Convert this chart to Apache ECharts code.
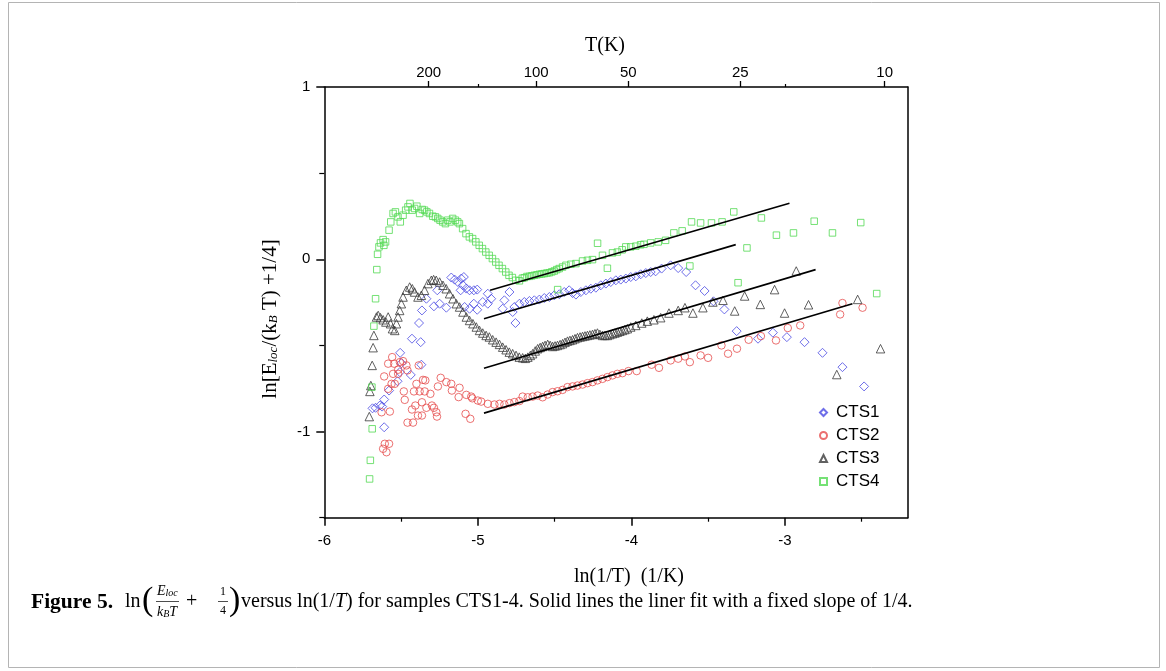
<!DOCTYPE html>
<html>
<head>
<meta charset="utf-8">
<script src="https://cdn.jsdelivr.net/npm/echarts@6/dist/echarts.min.js"></script>
<style>
html,body{margin:0;padding:0;background:#fff;}
#chart{width:1166px;height:671px;}
</style>
</head>
<body>
<div id="chart"></div>
<script>
// ---- Data: [ln(1/T), ln(Eloc/kBT + 1/4)] ----
const seriesNames = ['CTS1', 'CTS2', 'CTS3', 'CTS4'];

const cts1 = [
  [-5.686,-0.865],[-5.666,-0.862],[-5.638,-0.849],[-5.623,-0.855],[-5.610,-0.814],[-5.610,-0.975],
  [-5.578,-0.762],[-5.523,-0.708],[-5.508,-0.655],[-5.497,-0.603],[-5.506,-0.543],[-5.437,-0.671],
  [-5.368,-0.612],[-5.429,-0.461],[-5.372,-0.481],[-5.383,-0.370],[-5.364,-0.297],[-5.335,-0.229],
  [-5.286,-0.273],[-5.249,-0.258],[-5.205,-0.281],[-5.264,-0.180],[-5.173,-0.106],[-5.151,-0.118],
  [-5.130,-0.132],[-5.108,-0.112],[-5.091,-0.103],[-5.097,-0.151],[-5.075,-0.170],[-5.054,-0.180],
  [-5.026,-0.180],[-5.004,-0.176],[-5.112,-0.180],[-5.086,-0.277],[-5.054,-0.287],[-5.026,-0.258],
  [-5.004,-0.293],[-4.968,-0.248],[-4.935,-0.200],[-4.913,-0.229],[-4.935,-0.258],[-4.827,-0.238],
  [-4.838,-0.287],[-4.794,-0.190],[-4.773,-0.306],[-4.755,-0.370],[-4.762,-0.277],[-4.729,-0.258],
  [-4.697,-0.248],[-4.664,-0.242],[-4.632,-0.238],[-4.599,-0.234],[-4.567,-0.225],[-4.534,-0.219],
  [-4.502,-0.209],[-4.469,-0.203],[-4.437,-0.190],[-4.405,-0.180],[-4.383,-0.196],[-4.361,-0.205],
  [-4.329,-0.190],[-4.296,-0.180],[-4.264,-0.171],[-4.231,-0.165],[-4.199,-0.151],[-4.166,-0.141],
  [-4.134,-0.132],[-4.101,-0.122],[-4.069,-0.118],[-4.036,-0.112],[-4.004,-0.103],[-3.971,-0.099],
  [-3.939,-0.087],[-3.906,-0.080],[-3.874,-0.074],[-3.842,-0.070],[-3.803,-0.054],[-3.744,-0.035],
  [-3.695,-0.051],[-3.643,-0.074],[-3.582,-0.151],[-3.523,-0.184],[-3.465,-0.244],[-3.394,-0.291],
  [-3.314,-0.417],[-3.175,-0.461],[-3.078,-0.426],[-2.987,-0.452],[-2.872,-0.481],[-2.755,-0.543],
  [-2.625,-0.626],[-2.484,-0.738]
];

const cts2 = [
  [-5.558,-0.568],[-5.584,-0.606],[-5.545,-0.606],[-5.508,-0.597],[-5.487,-0.591],[-5.465,-0.616],
  [-5.519,-0.641],[-5.610,-0.680],[-5.552,-0.665],[-5.519,-0.665],[-5.458,-0.645],[-5.385,-0.616],
  [-5.357,-0.700],[-5.342,-0.703],[-5.400,-0.723],[-5.541,-0.723],[-5.584,-0.752],[-5.562,-0.723],
  [-5.482,-0.767],[-5.476,-0.816],[-5.416,-0.767],[-5.379,-0.767],[-5.346,-0.767],[-5.309,-0.781],
  [-5.260,-0.738],[-5.242,-0.688],[-5.205,-0.713],[-5.173,-0.723],[-5.169,-0.762],[-5.119,-0.746],
  [-5.125,-0.800],[-5.075,-0.787],[-5.036,-0.807],[-5.000,-0.820],[-5.573,-0.884],[-5.627,-0.888],
  [-5.429,-0.872],[-5.407,-0.849],[-5.364,-0.830],[-5.335,-0.862],[-5.299,-0.849],[-5.286,-0.862],
  [-5.270,-0.888],[-5.266,-0.913],[-5.390,-0.907],[-5.364,-0.907],[-5.458,-0.948],[-5.422,-0.948],
  [-5.080,-0.897],[-5.049,-0.926],[-5.606,-1.071],[-5.578,-1.071],[-5.617,-1.100],[-5.595,-1.120],
  [-5.043,-0.797],[-4.978,-0.826],[-4.935,-0.839],[-4.892,-0.843],[-4.859,-0.839],[-4.827,-0.843],
  [-4.794,-0.835],[-4.762,-0.829],[-4.729,-0.823],[-4.708,-0.797],[-4.675,-0.801],[-4.643,-0.797],
  [-4.610,-0.791],[-4.578,-0.801],[-4.545,-0.785],[-4.513,-0.771],[-4.481,-0.766],[-4.448,-0.758],
  [-4.416,-0.742],[-4.383,-0.738],[-4.351,-0.733],[-4.318,-0.727],[-4.286,-0.719],[-4.253,-0.713],
  [-4.221,-0.703],[-4.188,-0.694],[-4.156,-0.684],[-4.123,-0.674],[-4.091,-0.665],[-4.058,-0.661],
  [-4.019,-0.649],[-3.965,-0.649],[-3.868,-0.612],[-3.820,-0.630],[-3.744,-0.587],[-3.695,-0.577],
  [-3.651,-0.564],[-3.619,-0.597],[-3.549,-0.558],[-3.500,-0.572],[-3.413,-0.500],[-3.370,-0.548],
  [-3.312,-0.519],[-3.236,-0.467],[-3.156,-0.446],[-3.058,-0.471],[-2.981,-0.399],[-2.900,-0.384],
  [-2.640,-0.320],[-2.625,-0.254],[-2.494,-0.281]
];

const cts3 = [
  [-5.707,-0.913],[-5.703,-0.767],[-5.697,-0.733],[-5.688,-0.616],[-5.682,-0.513],[-5.677,-0.442],
  [-5.660,-0.335],[-5.649,-0.326],[-5.634,-0.339],[-5.617,-0.351],[-5.599,-0.364],[-5.584,-0.335],
  [-5.569,-0.374],[-5.556,-0.403],[-5.541,-0.413],[-5.530,-0.374],[-5.520,-0.335],[-5.509,-0.297],
  [-5.498,-0.258],[-5.487,-0.219],[-5.466,-0.180],[-5.444,-0.161],[-5.427,-0.171],[-5.412,-0.190],
  [-5.390,-0.219],[-5.368,-0.209],[-5.347,-0.180],[-5.325,-0.141],[-5.303,-0.122],[-5.288,-0.118],
  [-5.271,-0.122],[-5.249,-0.132],[-5.227,-0.151],[-5.206,-0.171],[-5.184,-0.200],[-5.162,-0.229],
  [-5.140,-0.258],[-5.119,-0.277],[-5.097,-0.306],[-5.075,-0.335],[-5.054,-0.355],[-5.032,-0.374],
  [-5.010,-0.393],[-4.989,-0.413],[-4.968,-0.428],[-4.946,-0.442],[-4.925,-0.451],[-4.903,-0.467],
  [-4.881,-0.481],[-4.859,-0.494],[-4.838,-0.510],[-4.816,-0.525],[-4.795,-0.539],[-4.773,-0.548],
  [-4.751,-0.558],[-4.730,-0.568],[-4.708,-0.572],[-4.690,-0.575],[-4.674,-0.568],[-4.658,-0.558],
  [-4.643,-0.548],[-4.626,-0.532],[-4.610,-0.519],[-4.594,-0.512],[-4.578,-0.506],[-4.562,-0.500],
  [-4.545,-0.494],[-4.529,-0.500],[-4.513,-0.506],[-4.497,-0.503],[-4.481,-0.500],[-4.464,-0.495],
  [-4.448,-0.490],[-4.432,-0.482],[-4.416,-0.475],[-4.400,-0.471],[-4.383,-0.467],[-4.367,-0.461],
  [-4.351,-0.455],[-4.334,-0.451],[-4.318,-0.448],[-4.302,-0.445],[-4.286,-0.442],[-4.270,-0.439],
  [-4.253,-0.436],[-4.237,-0.432],[-4.221,-0.428],[-4.205,-0.436],[-4.188,-0.442],[-4.172,-0.442],
  [-4.156,-0.442],[-4.140,-0.437],[-4.123,-0.432],[-4.107,-0.428],[-4.091,-0.423],[-4.075,-0.418],
  [-4.058,-0.413],[-4.042,-0.408],[-4.026,-0.403],[-4.004,-0.393],[-3.971,-0.384],[-3.932,-0.370],
  [-3.896,-0.359],[-3.853,-0.351],[-3.809,-0.339],[-3.755,-0.312],[-3.695,-0.297],[-3.651,-0.281],
  [-3.599,-0.312],[-3.534,-0.281],[-3.469,-0.248],[-3.403,-0.238],[-3.327,-0.300],[-3.262,-0.213],
  [-3.160,-0.262],[-3.067,-0.176],[-3.002,-0.312],[-2.926,-0.068],[-2.846,-0.264],[-2.662,-0.669],
  [-2.526,-0.233],[-2.377,-0.519]
];

const cts4 = [
  [-5.705,-1.275],[-5.700,-1.167],[-5.688,-0.984],[-5.690,-0.742],[-5.677,-0.388],[-5.666,-0.229],
  [-5.658,-0.060],[-5.653,0.029],[-5.644,0.072],[-5.634,0.095],[-5.617,0.114],[-5.612,0.081],
  [-5.601,0.101],[-5.578,0.169],[-5.567,0.217],[-5.552,0.266],[-5.537,0.275],[-5.520,0.246],
  [-5.505,0.217],[-5.487,0.256],[-5.470,0.285],[-5.455,0.304],[-5.442,0.324],[-5.427,0.285],
  [-5.412,0.295],[-5.397,0.308],[-5.379,0.266],[-5.362,0.289],[-5.347,0.285],[-5.332,0.275],
  [-5.315,0.266],[-5.293,0.250],[-5.276,0.246],[-5.261,0.237],[-5.246,0.227],[-5.229,0.217],
  [-5.211,0.207],[-5.196,0.227],[-5.181,0.217],[-5.164,0.237],[-5.146,0.227],[-5.131,0.217],
  [-5.120,0.207],[-5.099,0.178],[-5.077,0.149],[-5.055,0.130],[-5.034,0.120],[-5.013,0.101],
  [-4.991,0.081],[-4.970,0.062],[-4.948,0.042],[-4.926,0.023],[-4.905,0.004],[-4.883,-0.016],
  [-4.862,-0.035],[-4.840,-0.054],[-4.818,-0.074],[-4.797,-0.093],[-4.775,-0.106],[-4.753,-0.122],
  [-4.729,-0.125],[-4.710,-0.110],[-4.697,-0.107],[-4.680,-0.100],[-4.664,-0.099],[-4.648,-0.096],
  [-4.632,-0.093],[-4.615,-0.090],[-4.599,-0.087],[-4.583,-0.085],[-4.567,-0.083],[-4.550,-0.080],
  [-4.534,-0.078],[-4.518,-0.073],[-4.502,-0.068],[-4.486,-0.060],[-4.470,-0.054],[-4.448,-0.045],
  [-4.426,-0.035],[-4.394,-0.029],[-4.361,-0.025],[-4.318,-0.010],[-4.286,-0.006],[-4.253,-0.002],
  [-4.220,0.093],[-4.188,0.023],[-4.156,-0.052],[-4.123,0.037],[-4.091,0.042],[-4.060,0.055],
  [-4.036,0.072],[-4.004,0.072],[-3.971,0.076],[-3.940,0.084],[-3.918,0.087],[-3.874,0.095],
  [-3.825,0.101],[-3.777,0.110],[-3.723,0.153],[-3.669,0.165],[-3.619,-0.039],[-3.608,0.217],
  [-3.549,0.211],[-3.478,0.211],[-3.409,0.217],[-3.333,0.275],[-3.305,-0.136],[-3.247,0.066],
  [-3.153,0.240],[-3.055,0.140],[-2.944,0.153],[-2.809,0.221],[-2.690,0.153],[-2.506,0.213],
  [-2.402,-0.199],[-4.480,-0.176]
];

// Linear fits (slope ~1/4), endpoints
const fit1 = [[-4.96,-0.345],[-3.32,0.085]];
const fit2 = [[-4.96,-0.893],[-2.56,-0.258]];
const fit3 = [[-4.96,-0.632],[-2.80,-0.060]];
const fit4 = [[-4.92,-0.180],[-2.97,0.325]];

// Axes / ticks
const xRange = [-6, -2.2];
const yRange = [-1.5, 1];
const xMajorTicks = [-6, -5, -4, -3];
const xMinorTicks = [-5.5, -4.5, -3.5, -2.5];
const yMajorTicks = [-1, 0, 1];
const yMinorTicks = [-1.5, -0.5, 0.5];
const topTempLabels = [200, 100, 50, 25, 10];
const topTickPositions = [-5.32, -4.62, -4.02, -3.29, -2.35];
const topMinorTicks = [-5, -3];

const colors = ['#4a4ae4', '#e64c4c', '#3a3a3a', '#52da52'];
const symbols = ['diamond', 'circle', 'triangle', 'rect'];
const symbolSizes = [9, 7.5, 8.5, 6.5];

const SANS = 'Liberation Sans';
const SERIF = 'Liberation Serif';

const chart = echarts.init(document.getElementById('chart'), null, {renderer: 'canvas'});

const axisCommon = {
  type: 'value',
  splitLine: {show: false},
  axisLine: {show: false, onZero: false},
  axisTick: {show: false},
  axisLabel: {show: false}
};

function scatterSeries(i, data) {
  return {
    name: seriesNames[i],
    type: 'scatter',
    data: data,
    symbol: symbols[i],
    symbolSize: symbolSizes[i],
    itemStyle: {color: 'rgba(0,0,0,0)', borderColor: colors[i], borderWidth: 1},
    emphasis: {disabled: true},
    z: 2
  };
}
function fitSeries(name, data) {
  return {
    name: name,
    type: 'line',
    data: data,
    symbol: 'none',
    lineStyle: {color: '#000', width: 1.6},
    emphasis: {disabled: true},
    z: 3
  };
}

const option = {
  backgroundColor: '#fff',
  animation: false,
  grid: {left: 324.3, right: 258.3, top: 87, bottom: 153.3, containLabel: false},
  xAxis: [
    Object.assign({}, axisCommon, {
      position: 'bottom', min: xRange[0], max: xRange[1],
      axisLine: {show: true, onZero: false, lineStyle: {color: '#000', width: 1.5}},
      axisTick: {show: true, customValues: xMajorTicks, length: 8, lineStyle: {color: '#000', width: 1.5}},
      axisLabel: {show: true, customValues: xMajorTicks, margin: 16, fontSize: 15, fontFamily: SANS, color: '#000'}
    }),
    Object.assign({}, axisCommon, {
      position: 'bottom', min: xRange[0], max: xRange[1],
      axisTick: {show: true, customValues: xMinorTicks, length: 4, lineStyle: {color: '#000', width: 1.2}}
    }),
    Object.assign({}, axisCommon, {
      position: 'top', min: xRange[0], max: xRange[1],
      axisLine: {show: true, onZero: false, lineStyle: {color: '#000', width: 1.5}},
      axisTick: {show: true, customValues: topTickPositions, length: 6, lineStyle: {color: '#000', width: 1.3}},
      axisLabel: {
        show: true, customValues: topTickPositions, margin: 7, fontSize: 15, fontFamily: SANS, color: '#000',
        formatter: function (v) {
          const i = topTickPositions.findIndex(p => Math.abs(p - v) < 1e-6);
          return i >= 0 ? String(topTempLabels[i]) : '';
        }
      }
    }),
    Object.assign({}, axisCommon, {
      position: 'top', min: xRange[0], max: xRange[1],
      axisTick: {show: true, customValues: topMinorTicks, length: 3, lineStyle: {color: '#000', width: 1.2}}
    })
  ],
  yAxis: [
    Object.assign({}, axisCommon, {
      position: 'left', min: yRange[0], max: yRange[1],
      axisLine: {show: true, onZero: false, lineStyle: {color: '#000', width: 1.5}},
      axisTick: {show: true, customValues: yMajorTicks, length: 8, lineStyle: {color: '#000', width: 1.5}},
      axisLabel: {show: true, customValues: yMajorTicks, margin: 14, fontSize: 15, fontFamily: SANS, color: '#000'}
    }),
    Object.assign({}, axisCommon, {
      position: 'left', min: yRange[0], max: yRange[1],
      axisTick: {show: true, customValues: yMinorTicks, length: 5, lineStyle: {color: '#000', width: 1.2}}
    }),
    Object.assign({}, axisCommon, {
      position: 'right', min: yRange[0], max: yRange[1],
      axisLine: {show: true, onZero: false, lineStyle: {color: '#000', width: 1.5}}
    })
  ],
  legend: {
    orient: 'vertical',
    left: 814, top: 399,
    itemWidth: 7, itemHeight: 7, itemGap: 6,
    data: seriesNames,
    textStyle: {fontSize: 17, fontFamily: SANS, color: '#000', padding: [0, 0, 0, 4]},
    selectedMode: false
  },
  series: [
    scatterSeries(0, cts1),
    scatterSeries(1, cts2),
    scatterSeries(2, cts3),
    scatterSeries(3, cts4),
    fitSeries('fit1', fit1),
    fitSeries('fit2', fit2),
    fitSeries('fit3', fit3),
    fitSeries('fit4', fit4)
  ],
  graphic: [
    {type: 'rect', silent: true, shape: {x: 8.5, y: 2.5, width: 1151, height: 665},
     style: {fill: 'none', stroke: '#b4b4b4', lineWidth: 1}},
    {type: 'text', silent: true, x: 605, y: 46,
     style: {text: 'T(K)', fontSize: 20, fontFamily: SERIF, fill: '#000', align: 'center', verticalAlign: 'middle'}},
    {type: 'text', silent: true, x: 629, y: 577,
     style: {text: 'ln(1/T)  (1/K)', fontSize: 20, fontFamily: SERIF, fill: '#000', align: 'center', verticalAlign: 'middle'}},
    {type: 'text', silent: true, x: 268, y: 319, rotation: Math.PI / 2,
     style: {
       text: '{n|ln[E}{s|loc}{n|/(k}{s|B}{n| T) +1/4]}',
       align: 'center', verticalAlign: 'middle',
       rich: {
         n: {fontSize: 21, fontFamily: SERIF, fill: '#000', lineHeight: 25, verticalAlign: 'bottom'},
         s: {fontSize: 13, fontStyle: 'italic', fontFamily: SERIF, fill: '#000', lineHeight: 12, verticalAlign: 'bottom'}
       }
     }},
    // Caption
    {type: 'text', silent: true, x: 31, y: 602,
     style: {text: 'Figure 5.', fontSize: 21.5, fontWeight: 'bold', fontFamily: SERIF, fill: '#000', verticalAlign: 'middle'}},
    {type: 'text', silent: true, x: 125, y: 602,
     style: {text: 'ln', fontSize: 20, fontFamily: SERIF, fill: '#000', verticalAlign: 'middle'}},
    {type: 'text', silent: true, x: 142, y: 601,
     style: {text: '(', fontSize: 34, fontFamily: SERIF, fill: '#000', verticalAlign: 'middle'}},
    {type: 'text', silent: true, x: 157, y: 591,
     style: {text: '{i|E}{s|loc}', verticalAlign: 'middle',
       rich: {i: {fontSize: 14, fontStyle: 'italic', fontFamily: SERIF, fill: '#000', lineHeight: 15, verticalAlign: 'bottom'},
              s: {fontSize: 10, fontStyle: 'italic', fontFamily: SERIF, fill: '#000', lineHeight: 9, verticalAlign: 'bottom'}}}},
    {type: 'line', silent: true, shape: {x1: 156, y1: 601.5, x2: 179, y2: 601.5}, style: {stroke: '#000', lineWidth: 0.7}},
    {type: 'text', silent: true, x: 157, y: 612,
     style: {text: '{i|k}{s|B}{i|T}', verticalAlign: 'middle',
       rich: {i: {fontSize: 14, fontStyle: 'italic', fontFamily: SERIF, fill: '#000', lineHeight: 15, verticalAlign: 'bottom'},
              s: {fontSize: 10, fontStyle: 'italic', fontFamily: SERIF, fill: '#000', lineHeight: 9, verticalAlign: 'bottom'}}}},
    {type: 'text', silent: true, x: 186, y: 602,
     style: {text: '+', fontSize: 20, fontFamily: SERIF, fill: '#000', verticalAlign: 'middle'}},
    {type: 'text', silent: true, x: 223, y: 592,
     style: {text: '1', fontSize: 12, fontFamily: SERIF, fill: '#000', align: 'center', verticalAlign: 'middle'}},
    {type: 'line', silent: true, shape: {x1: 218, y1: 601.5, x2: 228, y2: 601.5}, style: {stroke: '#000', lineWidth: 0.7}},
    {type: 'text', silent: true, x: 223, y: 611,
     style: {text: '4', fontSize: 12, fontFamily: SERIF, fill: '#000', align: 'center', verticalAlign: 'middle'}},
    {type: 'text', silent: true, x: 229, y: 601,
     style: {text: ')', fontSize: 34, fontFamily: SERIF, fill: '#000', verticalAlign: 'middle'}},
    {type: 'text', silent: true, x: 241, y: 602,
     style: {text: '{n|versus ln(1/}{i|T}{n|) for samples CTS1-4. Solid lines the liner fit with a fixed slope of 1/4.}',
       verticalAlign: 'middle',
       rich: {n: {fontSize: 20, fontFamily: SERIF, fill: '#000'},
              i: {fontSize: 20, fontFamily: SERIF, fontStyle: 'italic', fill: '#000'}}}}
  ]
};

chart.setOption(option);
</script>
</body>
</html>
